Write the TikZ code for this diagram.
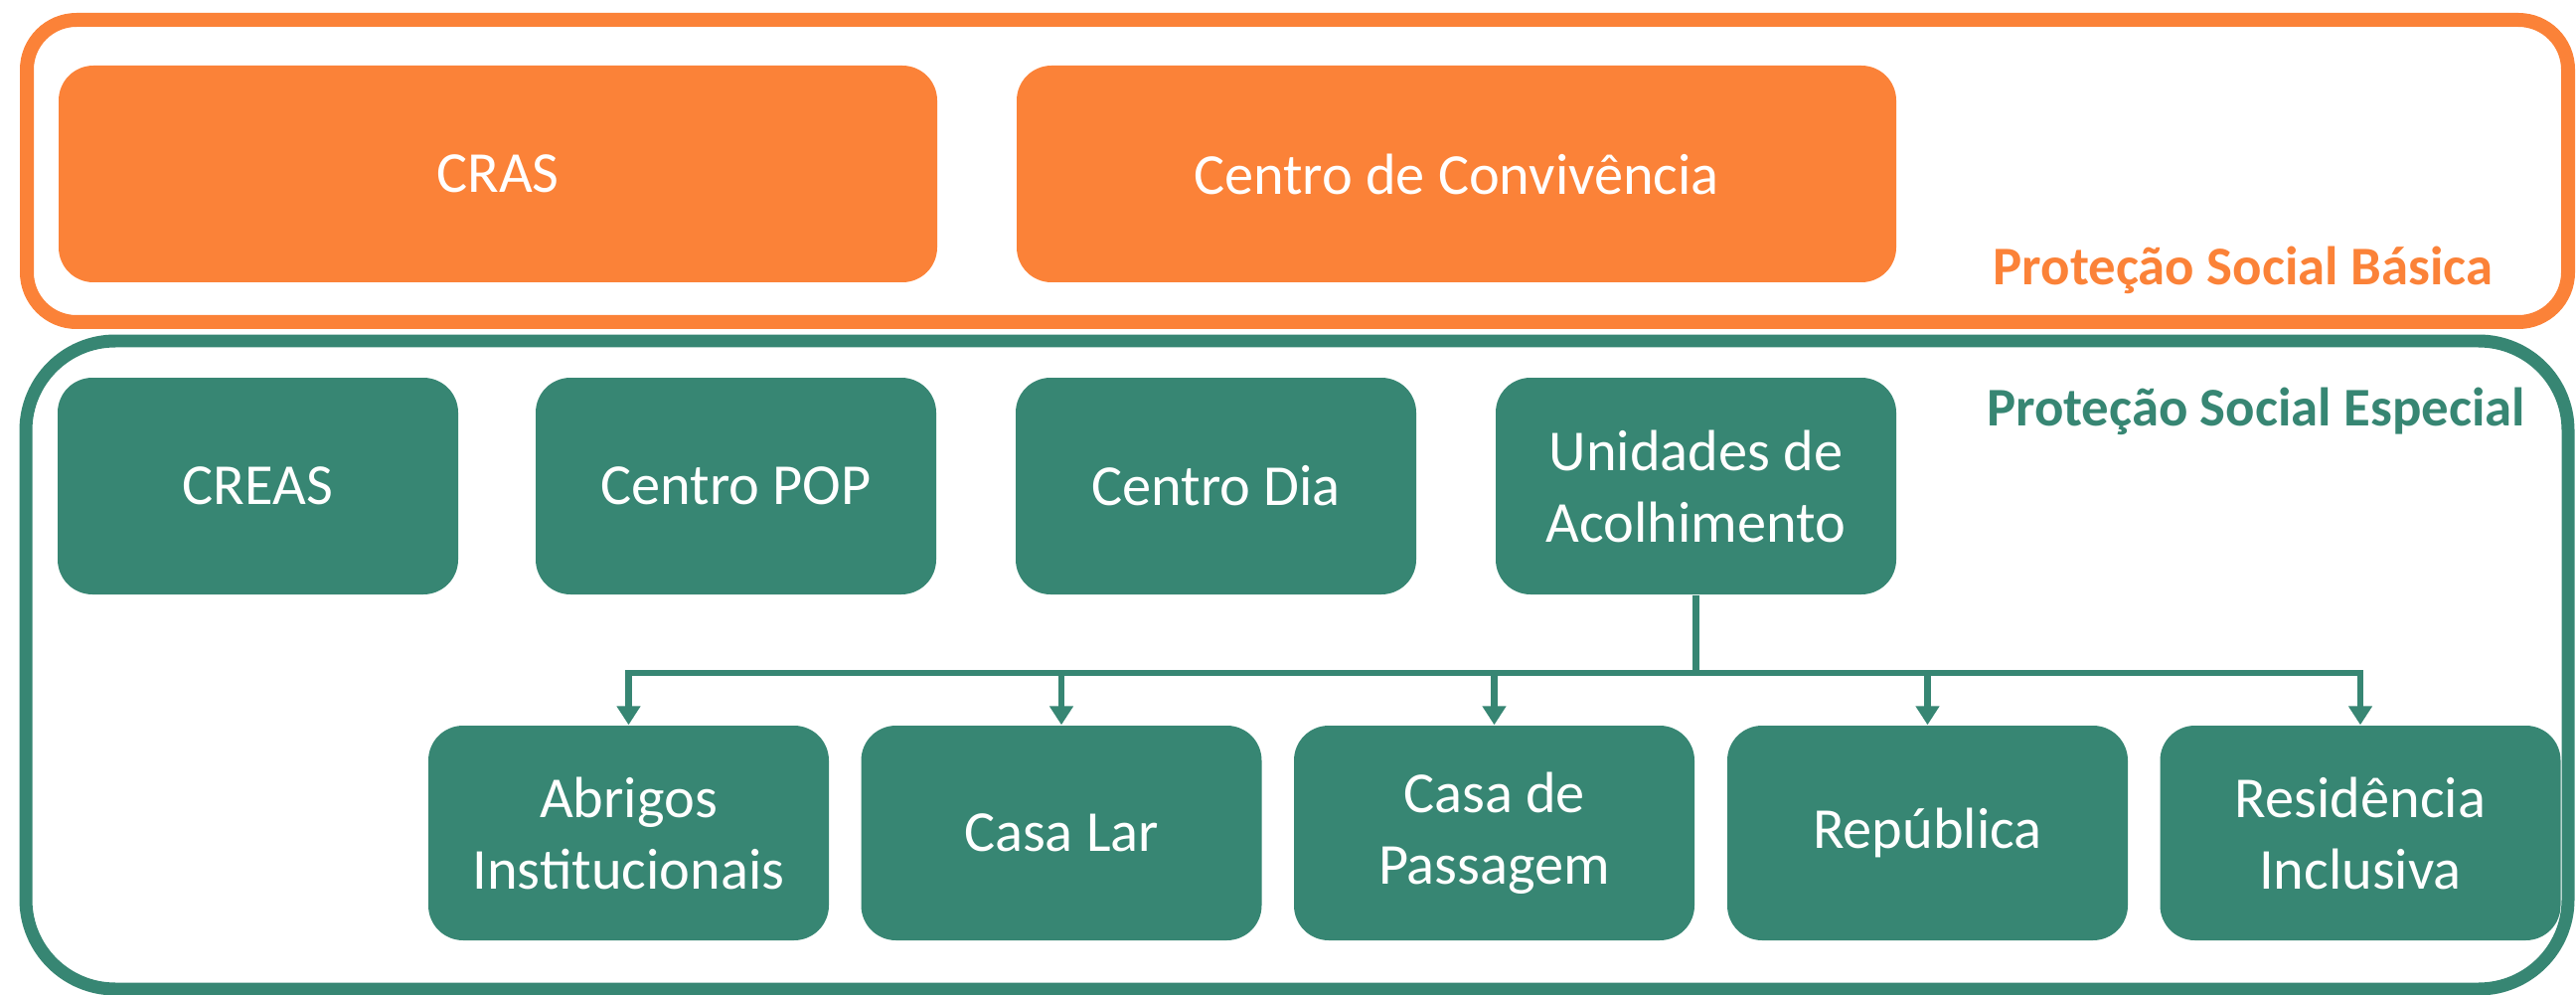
\documentclass[tikz,border=0pt]{standalone}
\usepackage{fontspec}
\setmainfont{Carlito}
\usetikzlibrary{arrows.meta}
\definecolor{psbOrange}{RGB}{251,130,56}
\definecolor{pseGreen}{RGB}{55,134,115}
\begin{document}
\begin{tikzpicture}[x=0.1mm,y=-0.1mm,
  boxbase/.style={rounded corners=3.5mm, inner sep=0pt, align=center, text=white,
    font=\fontsize{16.6pt}{20.5pt}\selectfont},
  obox/.style={boxbase, fill=psbOrange, minimum height=21.8mm},
  gbox/.style={boxbase, fill=pseGreen, minimum width=40.3mm, minimum height=21.8mm},
  cbox/.style={boxbase, fill=pseGreen, minimum width=40.3mm, minimum height=21.6mm},
  grouplabel/.style={font=\fontsize{15.6pt}{19pt}\selectfont\bfseries, anchor=base east, inner sep=0pt},
  link/.style={draw=pseGreen, line width=0.65mm},
  arr/.style={link, -{Triangle[width=2.3mm,length=1.9mm]}}]
\useasboundingbox (0,0) rectangle (2592,1001);
% frames
\draw[psbOrange, line width=1.4mm, rounded corners=5mm] (27,20) rectangle (2584,324);
\draw[pseGreen, line width=1.3mm, rounded corners=9mm] (26,343) rectangle (2584,995);
% labels
\node[grouplabel, text=psbOrange] (lblB) at (2509,287) {Proteção Social Básica};
\node[grouplabel, text=pseGreen] (lblE) at (2542,428) {Proteção Social Especial};
% top row
\node[obox, minimum width=88.4mm] (cras) at (501,175) {CRAS};
\node[obox, minimum width=88.5mm] (conv) at (1465.5,175) {Centro de Convivência};
% second row
\node[gbox] (creas) at (259.5,489) {CREAS};
\node[gbox] (pop) at (740.5,489) {Centro POP};
\node[gbox] (dia) at (1223.5,489) {Centro Dia};
\node[gbox] (unid) at (1706.5,489) {Unidades de\\Acolhimento};
% third row
\node[cbox] (abr) at (632.5,838) {Abrigos\\Institucionais};
\node[cbox] (lar) at (1068,838) {Casa Lar};
\node[cbox] (pas) at (1503.5,838) {Casa de\\Passagem};
\node[cbox] (rep) at (1939.5,838) {República};
\node[cbox] (res) at (2375,838) {Residência\\Inclusiva};
% connectors
\coordinate (bus) at (1706.5,677);
\draw[link] (unid.south) -- (bus);
\foreach \c in {abr,lar,pas,rep,res}{
  \draw[arr] (bus) -| (\c.north);
}
\end{tikzpicture}
\end{document}
